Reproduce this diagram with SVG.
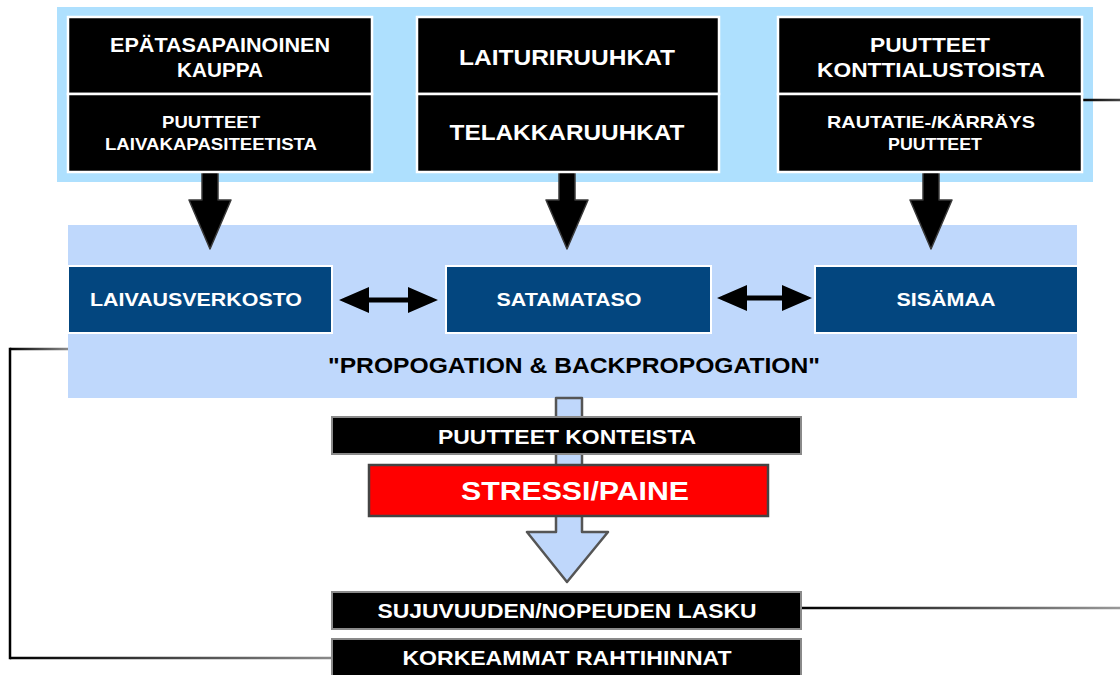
<svg xmlns="http://www.w3.org/2000/svg" width="1120" height="675" viewBox="0 0 1120 675">
<style>
text{font-family:"Liberation Sans",Arial,sans-serif;font-weight:bold;text-anchor:middle}
.w{fill:#fff}
.k{fill:#000}
.topbox{fill:#000;stroke:#fff;stroke-width:2.5}
.midbox{fill:#03467f;stroke:#fff;stroke-width:2}
.botbox{fill:#000;stroke:#8a8a8a;stroke-width:2}
.darr{fill:#000;stroke:#3a3a3a;stroke-width:1.5;stroke-linejoin:round}
.conn{fill:none;stroke-width:2.5}
</style>
<defs>
<linearGradient id="gL1" gradientUnits="userSpaceOnUse" x1="10" y1="0" x2="68" y2="0"><stop offset="0" stop-color="#000"/><stop offset="1" stop-color="#8a8a8a"/></linearGradient>
<linearGradient id="gL2" gradientUnits="userSpaceOnUse" x1="10" y1="0" x2="333" y2="0"><stop offset="0" stop-color="#000"/><stop offset="1" stop-color="#8a8a8a"/></linearGradient>
<linearGradient id="gR1" gradientUnits="userSpaceOnUse" x1="1082" y1="0" x2="1120" y2="0"><stop offset="0" stop-color="#000"/><stop offset="1" stop-color="#444"/></linearGradient>
<linearGradient id="gR2" gradientUnits="userSpaceOnUse" x1="801" y1="0" x2="1120" y2="0"><stop offset="0" stop-color="#000"/><stop offset="1" stop-color="#999"/></linearGradient>
</defs>
<rect width="1120" height="675" fill="#fff"/>
<!-- bands -->
<rect id="top-band" x="57" y="7" width="1036" height="175" fill="#aee0fe"/>
<rect id="mid-band" x="68" y="225" width="1009" height="173" fill="#bfd8fc"/>

<!-- connectors -->
<g id="connectors">
<path class="conn" d="M68,349 H10" stroke="url(#gL1)"/>
<path class="conn" d="M10,347.8 V659.2" stroke="#000"/>
<path class="conn" d="M10,658 H333" stroke="url(#gL2)"/>
<path class="conn" d="M1082,100 H1120" stroke="url(#gR1)"/>
<path class="conn" d="M801,608 H1120" stroke="url(#gR2)"/>
<polygon class="darr" points="202,172 218,172 218,200 231,200 210,249 189,200 202,200"/>
<polygon class="darr" points="559,172 575,172 575,200 588,200 567,249 546,200 559,200"/>
<polygon class="darr" points="923,172 939,172 939,200 952,200 931,249 910,200 923,200"/>
<polygon fill="#000" points="339,300 369,287 369,297.5 408,297.5 408,287 438,300 408,313 408,302.5 369,302.5 369,313"/>
<polygon fill="#000" points="717,298 747,285 747,295.5 782,295.5 782,285 812,298 782,311 782,300.5 747,300.5 747,311"/>
<polygon fill="#bfd7fb" stroke="#555" stroke-width="2.5" stroke-linejoin="round" points="556,398 582,398 582,532 608,532 567,582 527,532 556,532"/>
</g>

<!-- top nodes -->
<g id="n-epatasapainoinen">
<rect class="topbox" x="68" y="17" width="304" height="77"/>
<text class="w" x="220" y="52" font-size="19.5" textLength="220" lengthAdjust="spacingAndGlyphs">EPÄTASAPAINOINEN</text>
<text class="w" x="220" y="77" font-size="19.5" textLength="86" lengthAdjust="spacingAndGlyphs">KAUPPA</text>
</g>
<g id="n-laivakapasiteetit">
<rect class="topbox" x="68" y="94" width="304" height="78"/>
<text class="w" x="211" y="128" font-size="16.5" textLength="98" lengthAdjust="spacingAndGlyphs">PUUTTEET</text>
<text class="w" x="211" y="150" font-size="16.5" textLength="212" lengthAdjust="spacingAndGlyphs">LAIVAKAPASITEETISTA</text>
</g>
<g id="n-laituriruuhkat">
<rect class="topbox" x="417" y="17" width="302" height="77"/>
<text class="w" x="567" y="65" font-size="22" textLength="216" lengthAdjust="spacingAndGlyphs">LAITURIRUUHKAT</text>
</g>
<g id="n-telakkaruuhkat">
<rect class="topbox" x="417" y="94" width="302" height="78"/>
<text class="w" x="567" y="140" font-size="22" textLength="235" lengthAdjust="spacingAndGlyphs">TELAKKARUUHKAT</text>
</g>
<g id="n-konttialustat">
<rect class="topbox" x="778" y="17" width="304" height="77"/>
<text class="w" x="930" y="52" font-size="20" textLength="120" lengthAdjust="spacingAndGlyphs">PUUTTEET</text>
<text class="w" x="931" y="77" font-size="20" textLength="228" lengthAdjust="spacingAndGlyphs">KONTTIALUSTOISTA</text>
</g>
<g id="n-rautatie">
<rect class="topbox" x="778" y="94" width="304" height="78"/>
<text class="w" x="931" y="128" font-size="17" textLength="208" lengthAdjust="spacingAndGlyphs">RAUTATIE-/KÄRRÄYS</text>
<text class="w" x="935" y="150" font-size="17" textLength="94" lengthAdjust="spacingAndGlyphs">PUUTTEET</text>
</g>

<!-- middle nodes -->
<g id="n-laivausverkosto">
<rect class="midbox" x="68" y="266" width="264" height="67"/>
<text class="w" x="196" y="306" font-size="19" textLength="212" lengthAdjust="spacingAndGlyphs">LAIVAUSVERKOSTO</text>
</g>
<g id="n-satamataso">
<rect class="midbox" x="446" y="266" width="265" height="67"/>
<text class="w" x="569" y="306" font-size="19" textLength="145" lengthAdjust="spacingAndGlyphs">SATAMATASO</text>
</g>
<g id="n-sisamaa">
<rect class="midbox" x="815" y="266" width="263" height="67"/>
<text class="w" x="946" y="306" font-size="19" textLength="99" lengthAdjust="spacingAndGlyphs">SISÄMAA</text>
</g>
<g id="n-propogation">
<text class="k" x="574" y="373" font-size="22" textLength="492" lengthAdjust="spacingAndGlyphs">"PROPOGATION &amp; BACKPROPOGATION"</text>
</g>

<!-- bottom nodes -->
<g id="n-puutteet-konteista">
<rect class="botbox" x="332" y="417" width="469" height="37"/>
<text class="w" x="567" y="444" font-size="20.5" textLength="258" lengthAdjust="spacingAndGlyphs">PUUTTEET KONTEISTA</text>
</g>
<g id="n-stressi">
<rect x="369" y="465" width="399" height="51" fill="#ff0000" stroke="#444" stroke-width="2.5"/>
<text class="w" x="575" y="500" font-size="26" textLength="228" lengthAdjust="spacingAndGlyphs">STRESSI/PAINE</text>
</g>
<g id="n-sujuvuus">
<rect class="botbox" x="332" y="592" width="469" height="37"/>
<text class="w" x="567" y="618" font-size="20.5" textLength="379" lengthAdjust="spacingAndGlyphs">SUJUVUUDEN/NOPEUDEN LASKU</text>
</g>
<g id="n-rahtihinnat">
<rect class="botbox" x="332" y="639" width="469" height="40"/>
<text class="w" x="567" y="665" font-size="20.5" textLength="329" lengthAdjust="spacingAndGlyphs">KORKEAMMAT RAHTIHINNAT</text>
</g>
</svg>
